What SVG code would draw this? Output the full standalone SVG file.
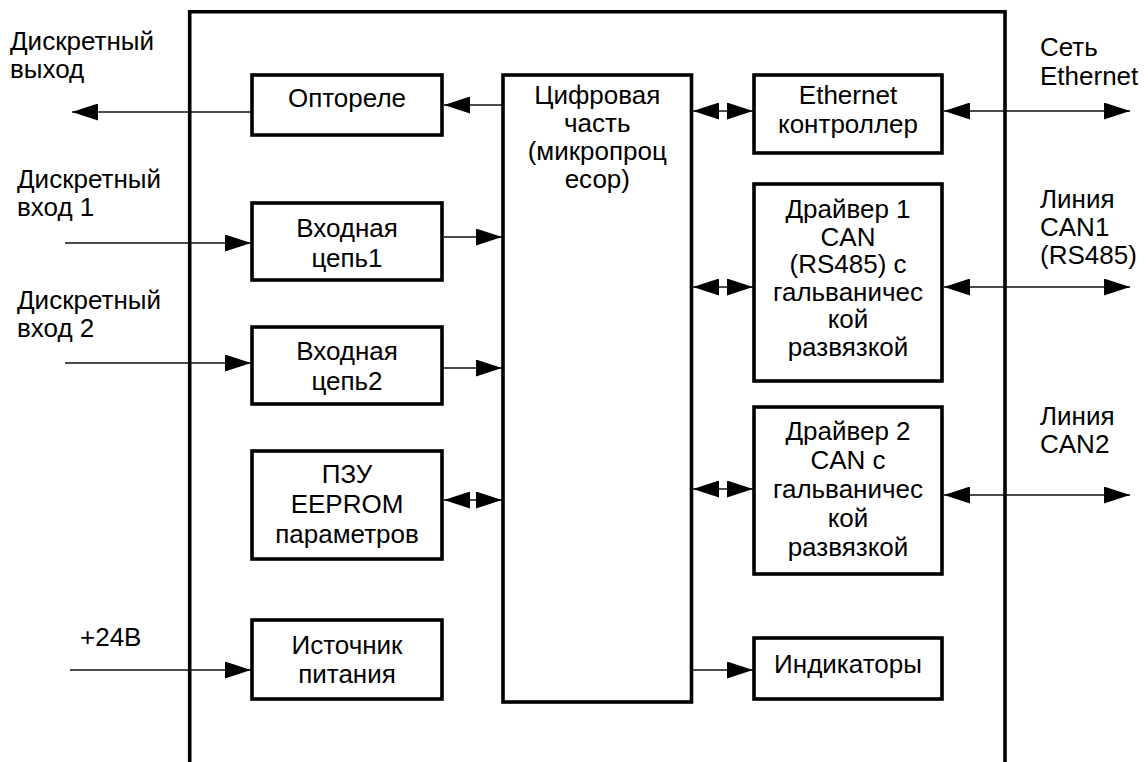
<svg xmlns="http://www.w3.org/2000/svg" width="1148" height="762" viewBox="0 0 1148 762">
<style>
text{font-family:"Liberation Sans",Arial,Helvetica,sans-serif;font-size:26px;fill:#000}
.c{text-anchor:middle}
.box{fill:#fff;stroke:#000;stroke-width:3.6}
.frame{fill:none;stroke:#000;stroke-width:3.6}
.ln{fill:none;stroke:#111;stroke-width:1.3}
.a2{marker-start:url(#ah);marker-end:url(#ah)}
.a1{marker-end:url(#ah)}
</style>
<defs>
<marker id="ah" viewBox="0 0 26 17" refX="26" refY="8.5" markerWidth="26" markerHeight="17" markerUnits="userSpaceOnUse" orient="auto-start-reverse"><path d="M0,0 L26,8.5 L0,17 Z" fill="#000"/></marker>
</defs>
<rect width="1148" height="762" fill="#fff"/>
<g id="frame"><path class="frame" d="M189.7,775 V11.7 H1005 V775"/></g>

<g id="connectors">
<line class="ln a1" x1="252" y1="112" x2="72" y2="112"/>
<line class="ln a1" x1="503" y1="105" x2="444" y2="105"/>
<line class="ln a2" x1="693" y1="111" x2="753" y2="111"/>
<line class="ln a2" x1="944" y1="111" x2="1130" y2="111"/>
<line class="ln a1" x1="65" y1="243" x2="251" y2="243"/>
<line class="ln a1" x1="444" y1="237" x2="502" y2="237"/>
<line class="ln a1" x1="65" y1="363" x2="251" y2="363"/>
<line class="ln a1" x1="444" y1="368" x2="502" y2="368"/>
<line class="ln a2" x1="444" y1="500" x2="502" y2="500"/>
<line class="ln a1" x1="70" y1="670" x2="251" y2="670"/>
<line class="ln a2" x1="693" y1="287" x2="753" y2="287"/>
<line class="ln a2" x1="944" y1="287" x2="1130" y2="287"/>
<line class="ln a2" x1="693" y1="489" x2="753" y2="489"/>
<line class="ln a2" x1="944" y1="495" x2="1130" y2="495"/>
<line class="ln a1" x1="693" y1="670" x2="753" y2="670"/>
</g>

<g id="optorele"><rect class="box" x="252" y="75" width="190" height="60"/><text class="c" x="347" y="107">Оптореле</text></g>
<g id="input1"><rect class="box" x="252" y="203" width="190" height="77"/><text class="c" x="347" y="237">Входная</text><text class="c" x="347" y="267">цепь1</text></g>
<g id="input2"><rect class="box" x="252" y="327" width="190" height="77"/><text class="c" x="347" y="360">Входная</text><text class="c" x="347" y="390">цепь2</text></g>
<g id="eeprom"><rect class="box" x="252" y="451" width="190" height="108"/><text class="c" x="347" y="483">ПЗУ</text><text class="c" x="347" y="513">EEPROM</text><text class="c" x="347" y="543">параметров</text></g>
<g id="power"><rect class="box" x="252" y="620" width="190" height="79"/><text class="c" x="347" y="654">Источник</text><text class="c" x="347" y="683">питания</text></g>

<g id="digital"><rect class="box" x="503" y="75" width="188.5" height="627"/><text class="c" x="597.3" y="104">Цифровая</text><text class="c" x="597.3" y="132">часть</text><text class="c" x="597.3" y="160">(микропроц</text><text class="c" x="597.3" y="188">есор)</text></g>

<g id="ethernet"><rect class="box" x="754" y="75" width="188" height="78"/><text class="c" x="848" y="104">Ethernet</text><text class="c" x="848" y="133">контроллер</text></g>
<g id="driver1"><rect class="box" x="754" y="184" width="188" height="197"/><text class="c" x="848" y="218">Драйвер 1</text><text class="c" x="848" y="245.5">CAN</text><text class="c" x="848" y="273">(RS485) с</text><text class="c" x="848" y="300.5">гальваничес</text><text class="c" x="848" y="328">кой</text><text class="c" x="848" y="355.5">развязкой</text></g>
<g id="driver2"><rect class="box" x="754" y="407" width="188" height="167"/><text class="c" x="848" y="440">Драйвер 2</text><text class="c" x="848" y="469">CAN с</text><text class="c" x="848" y="498">гальваничес</text><text class="c" x="848" y="527">кой</text><text class="c" x="848" y="556">развязкой</text></g>
<g id="indicators"><rect class="box" x="754" y="638" width="188" height="61"/><text class="c" x="848" y="673">Индикаторы</text></g>

<g id="label-dout"><text x="10" y="49.5">Дискретный</text><text x="10" y="77.5">выход</text></g>
<g id="label-din1"><text x="17" y="188">Дискретный</text><text x="17" y="216">вход 1</text></g>
<g id="label-din2"><text x="17" y="309">Дискретный</text><text x="17" y="337">вход 2</text></g>
<g id="label-24v"><text x="80" y="646">+24В</text></g>
<g id="label-eth"><text x="1040" y="56">Сеть</text><text x="1040" y="85">Ethernet</text></g>
<g id="label-can1"><text x="1040" y="208">Линия</text><text x="1040" y="236">CAN1</text><text x="1040" y="264">(RS485)</text></g>
<g id="label-can2"><text x="1040" y="425">Линия</text><text x="1040" y="453">CAN2</text></g>
</svg>
